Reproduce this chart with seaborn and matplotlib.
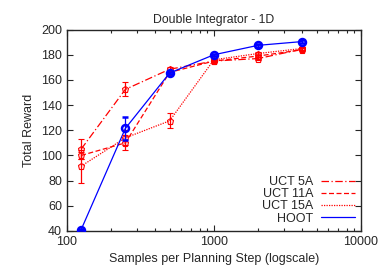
import numpy as np
import pandas as pd
import seaborn as sns
import matplotlib.pyplot as plt
from matplotlib.ticker import LogLocator, NullFormatter, MultipleLocator

samples = [125, 250, 500, 1000, 2000, 4000]
series = ['UCT 5A', 'UCT 11A', 'UCT 15A', 'HOOT']
uct5 = [105, 152.5, 168.5, 175, 177, 184.5]
uct11 = [100, 110, 166, 175, 179, 184]
uct15 = [91.5, 114, 127.5, 176, 181, 185]
hoot = [41, 121.5, 165.5, 180, 187.5, 190.5]
uct5_err = [8, 5.5, 1.5, 1, 1, 1]
uct11_err = [3, 6, 1.5, 1, 1, 1]
uct15_err = [13, 6, 6, 1, 1, 1]
hoot_err = [0.5, 9, 1, 1, 1, 1]

values = [uct5, uct11, uct15, hoot]
errors = [uct5_err, uct11_err, uct15_err, hoot_err]

df = pd.DataFrame({
    'Samples': samples * 4,
    'Reward': uct5 + uct11 + uct15 + hoot,
    'Series': [s for s in series for _ in samples],
})

sns.set_style('ticks')
plt.rcParams['font.family'] = ['Liberation Sans', 'DejaVu Sans']

colors = {'UCT 5A': '#ff0000', 'UCT 11A': '#ff0000', 'UCT 15A': '#ff0000', 'HOOT': '#0000ff'}
dashes = {'UCT 5A': (6, 2, 1, 2), 'UCT 11A': (4, 2), 'UCT 15A': (1, 1), 'HOOT': ''}

fig = plt.figure(figsize=(3.91, 2.74), dpi=100)
ax = fig.add_axes([0.171, 0.157, 0.752, 0.735])

sns.lineplot(data=df, x='Samples', y='Reward', hue='Series', style='Series',
             palette=colors, dashes=dashes, markers=False, lw=0.9, ax=ax)

# error bars and markers
for s, v, e in zip(series, values, errors):
    c = colors[s]
    if s == 'HOOT':
        ax.errorbar(samples, v, yerr=e, fmt='o', ms=5, mfc='none', mec=c, mew=1.8,
                    ecolor=c, elinewidth=0.9, capsize=2.5, zorder=5)
    else:
        ax.errorbar(samples, v, yerr=e, fmt='p', ms=5, mfc='none', mec=c, mew=0.8,
                    ecolor=c, elinewidth=0.9, capsize=2.5, zorder=4)

ax.set_xscale('log')
ax.set_xlim(100, 10000)
ax.set_ylim(40, 200)
ax.yaxis.set_major_locator(MultipleLocator(20))
ax.xaxis.set_minor_locator(LogLocator(base=10, subs=np.arange(2, 10)))
ax.xaxis.set_minor_formatter(NullFormatter())
ax.set_xticks([100, 1000, 10000])
ax.set_xticklabels(['100', '1000', '10000'])
ax.tick_params(which='both', direction='in', top=True, right=True, labelsize=9)
ax.tick_params(which='major', length=4, width=0.8)
ax.tick_params(which='minor', length=2.5, width=0.8)
for sp in ax.spines.values():
    sp.set_linewidth(1.0)

ax.set_title('Double Integrator - 1D', fontsize=8.8, pad=5)
ax.set_xlabel('Samples per Planning Step (logscale)', fontsize=9)
ax.set_ylabel('Total Reward', fontsize=9)

leg = ax.legend(loc='lower right', frameon=False, markerfirst=False, fontsize=9,
                handlelength=2.7, handletextpad=0.6, labelspacing=0.02,
                borderaxespad=0.1, borderpad=0.4)
for t in leg.get_texts():
    t.set_ha('right')

plt.savefig('out.png', dpi=100)
